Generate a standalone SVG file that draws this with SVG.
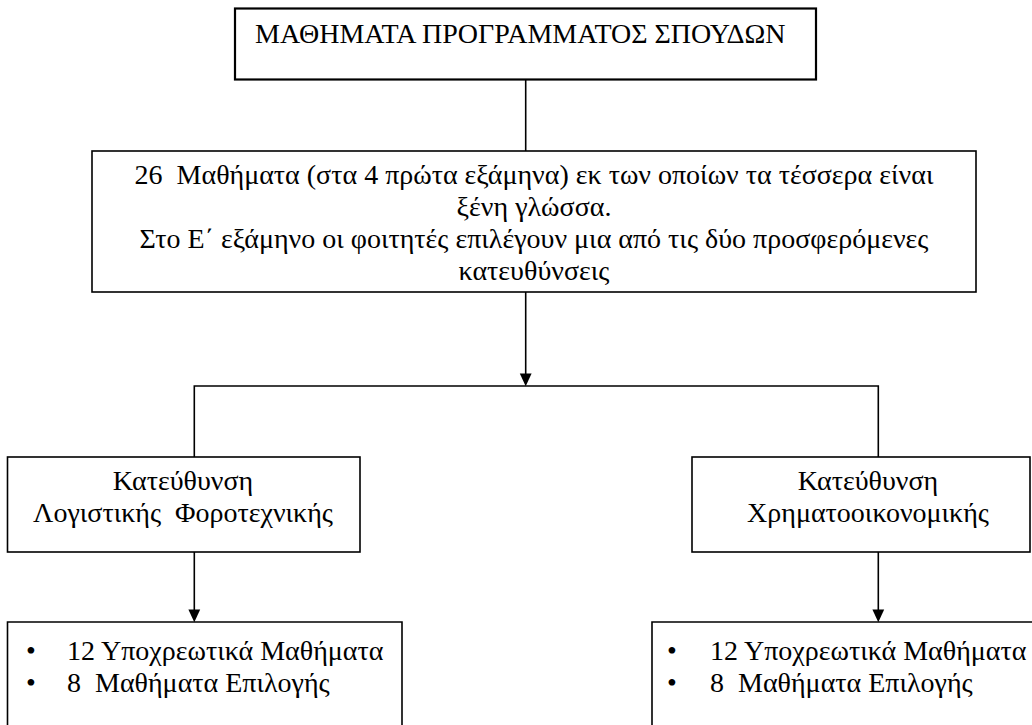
<svg xmlns="http://www.w3.org/2000/svg" width="1032" height="725" viewBox="0 0 1032 725" font-family="'Liberation Serif', 'Times New Roman', serif" font-size="28">
<style>
  .box { fill: #ffffff; stroke: #000000; stroke-width: 1.6; }
  .thick { stroke-width: 2.2; }
  .t { font-family: 'Liberation Serif', 'Times New Roman', serif; font-size: 28px; fill: #000000; }
  .c { text-anchor: middle; }
  .ln { stroke: #000000; stroke-width: 1.6; fill: none; }
  .head { fill: #000000; }
</style>
<g id="connectors">
  <line class="ln" x1="525.7" y1="80" x2="525.7" y2="151"/>
  <line class="ln" x1="525.7" y1="292" x2="525.7" y2="374"/>
  <path class="head" d="M519.8,373.5 L531.6,373.5 L525.7,386.2 Z"/>
  <polyline class="ln" points="194.3,457 194.3,386 878.3,386 878.3,457"/>
  <line class="ln" x1="194.3" y1="552" x2="194.3" y2="610"/>
  <path class="head" d="M188.4,609.5 L200.2,609.5 L194.3,622.2 Z"/>
  <line class="ln" x1="878.3" y1="552" x2="878.3" y2="610"/>
  <path class="head" d="M872.4,609.5 L884.2,609.5 L878.3,622.2 Z"/>
</g>
<g id="node-title">
  <rect class="box thick" x="235" y="8.5" width="581" height="71"/>
  <text class="t" x="255" y="43">ΜΑΘΗΜΑΤΑ ΠΡΟΓΡΑΜΜΑΤΟΣ ΣΠΟΥΔΩΝ</text>
</g>
<g id="node-courses">
  <rect class="box" x="92" y="151" width="884" height="141"/>
  <text class="t c" x="534" y="184" xml:space="preserve">26  Μαθήματα (στα 4 πρώτα εξάμηνα) εκ των οποίων τα τέσσερα είναι</text>
  <text class="t c" x="534" y="216">ξένη γλώσσα.</text>
  <text class="t c" x="534" y="248">Στο Ε΄ εξάμηνο οι φοιτητές επιλέγουν μια από τις δύο προσφερόμενες</text>
  <text class="t c" x="534" y="280">κατευθύνσεις</text>
</g>
<g id="node-accounting">
  <rect class="box" x="7.5" y="457" width="352.5" height="95"/>
  <text class="t c" x="183" y="490">Κατεύθυνση</text>
  <text class="t c" x="183" y="522" xml:space="preserve">Λογιστικής  Φοροτεχνικής</text>
</g>
<g id="node-finance">
  <rect class="box" x="692" y="457" width="338" height="95"/>
  <text class="t c" x="868" y="490">Κατεύθυνση</text>
  <text class="t c" x="868" y="522">Χρηματοοικονομικής</text>
</g>
<g id="node-accounting-courses">
  <path class="ln" d="M7.5,726 L7.5,622 L402,622 L402,726"/>
  <text class="t" x="26" y="660">•</text>
  <text class="t" x="67" y="660">12 Υποχρεωτικά Μαθήματα</text>
  <text class="t" x="26" y="692">•</text>
  <text class="t" x="67" y="692" xml:space="preserve">8  Μαθήματα Επιλογής</text>
</g>
<g id="node-finance-courses">
  <path class="ln" d="M652,726 L652,622 L1033,622"/>
  <text class="t" x="667" y="660">•</text>
  <text class="t" x="710" y="660">12 Υποχρεωτικά Μαθήματα</text>
  <text class="t" x="667" y="692">•</text>
  <text class="t" x="710" y="692" xml:space="preserve">8  Μαθήματα Επιλογής</text>
</g>
</svg>
